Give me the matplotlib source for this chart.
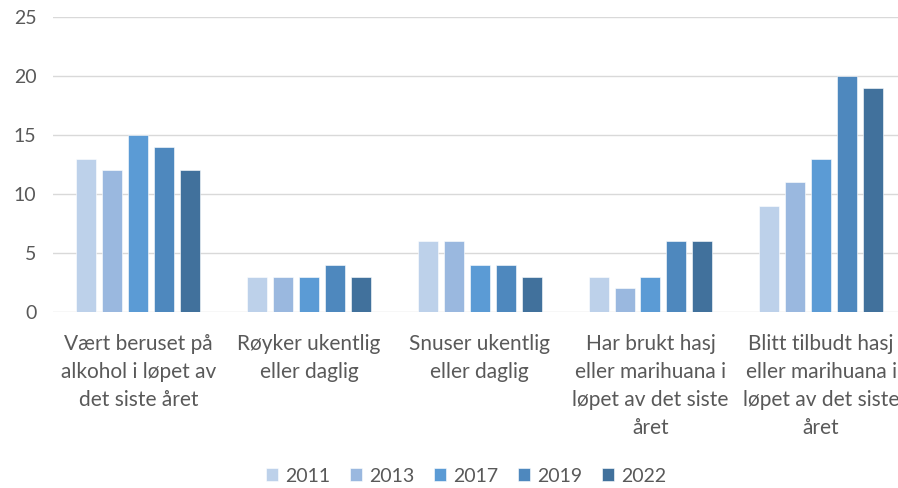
import numpy as np
import matplotlib.pyplot as plt

# Data
categories = [
    "Vært beruset på\nalkohol i løpet av\ndet siste året",
    "Røyker ukentlig\neller daglig",
    "Snuser ukentlig\neller daglig",
    "Har brukt hasj\neller marihuana i\nløpet av det siste\nåret",
    "Blitt tilbudt hasj\neller marihuana i\nløpet av det siste\nåret",
]
years = ["2011", "2013", "2017", "2019", "2022"]
v2011 = [13, 3, 6, 3, 9]
v2013 = [12, 3, 6, 2, 11]
v2017 = [15, 3, 4, 3, 13]
v2019 = [14, 4, 4, 6, 20]
v2022 = [12, 3, 3, 6, 19]
series = [v2011, v2013, v2017, v2019, v2022]
colors = ["#BDD1EA", "#9AB8DF", "#5B9BD5", "#4E88BE", "#41719C"]

plt.rcParams['font.family'] = ['Lato', 'DejaVu Sans']
text_color = "#595959"

fig = plt.figure(figsize=(8.98, 4.88), dpi=100)
ax = fig.add_axes([53 / 898, 176 / 488, 845 / 898, 295 / 488])

x = np.arange(len(categories))
width = 0.117
step = 0.152
for i, (vals, yr, c) in enumerate(zip(series, years, colors)):
    ax.bar(x + (i - 2) * step, vals, width, color=c, label=yr,
           edgecolor="white", linewidth=0.4, zorder=3)

ax.set_xlim(-0.5, 4.45)
ax.set_ylim(0, 25)
ax.set_yticks(range(0, 26, 5))
ax.yaxis.grid(True, color="#D9D9D9", linewidth=1)
ax.set_axisbelow(True)
for s in ax.spines.values():
    s.set_visible(False)
ax.tick_params(axis="both", length=0, labelsize=14, colors=text_color)
ax.tick_params(axis="y", pad=12)
ax.set_xticks(x)
ax.set_xticklabels(categories, linespacing=1.5, fontsize=15)
ax.tick_params(axis="x", pad=16)

ax.legend(loc="center", bbox_to_anchor=(466 / 898, 12 / 488),
          bbox_transform=fig.transFigure, ncol=5, frameon=False,
          fontsize=14, labelcolor=text_color, handlelength=0.65,
          handleheight=0.65, handletextpad=0.35, columnspacing=1.0)

fig.savefig("out.png", dpi=100)
